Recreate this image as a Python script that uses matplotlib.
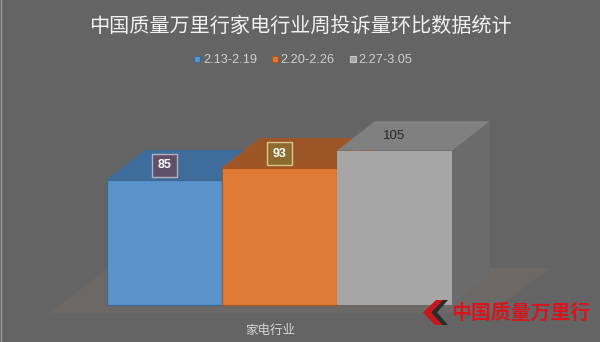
import matplotlib
matplotlib.use("Agg")
import matplotlib.pyplot as plt
from matplotlib.patches import Polygon
from matplotlib.lines import Line2D

# ---- data ----
title = "中国质量万里行家电行业周投诉量环比数据统计"
category = "家电行业"
weeks = ["2.13-2.19", "2.20-2.26", "2.27-3.05"]
complaints = [85, 93, 105]
watermark = "中国质量万里行"

# ---- styling ----
front_colors = ["#5B93CB", "#DF7B36", "#A6A6A6"]
top_colors = ["#3F6D9B", "#9C5526", "#808080"]
side_colors = ["#3A6690", "#94502A", "#6B6B6B"]
edge_colors = ["#3E6A96", "#A9561F", "none"]
label_fill = ["#5E5068", "#8B6B2E", None]
label_edge = ["#B7AEC0", "#D9C38F", None]
label_text = ["white", "white", "#262626"]
BG = "#646464"
FLOOR = "#6B6866"
CJK = ["Noto Sans CJK SC", "DejaVu Sans"]

W, H = 600, 342
fig = plt.figure(figsize=(W / 100, H / 100), dpi=100, facecolor=BG)
ax = fig.add_axes([0, 0, 1, 1])
ax.set_facecolor(BG)
ax.axis("off")

# pixel scale of the value axis and the category axis
px_per_x = 115.0
px_per_v = 125.0 / 85.0
x0_px, base_px = 107.0, 305.0
ax.set_xlim(-x0_px / px_per_x, (W - x0_px) / px_per_x)
ax.set_ylim(-(H - base_px) / px_per_v, base_px / px_per_v)

# depth of the 3D boxes (category units, value units)
dx, dy = 0.33, 20.0

# floor slab under the bars
fl_x0, fl_x1 = -0.5, 3.34
fl_y0 = -5.4
fdx, fdy = 0.51, 30.6
ax.add_patch(Polygon([(fl_x0, fl_y0), (fl_x1, fl_y0),
                      (fl_x1 + fdx, fl_y0 + fdy), (fl_x0 + fdx, fl_y0 + fdy)],
                     closed=True, facecolor=FLOOR, edgecolor="none", zorder=1))

for i, v in enumerate(complaints):
    x = float(i)
    side = [(x + 1, 0), (x + 1 + dx, dy), (x + 1 + dx, v + dy), (x + 1, v)]
    top = [(x, v), (x + 1, v), (x + 1 + dx, v + dy), (x + dx, v + dy)]
    front = [(x, 0), (x + 1, 0), (x + 1, v), (x, v)]
    z = 2 + i * 3
    ax.add_patch(Polygon(side, closed=True, facecolor=side_colors[i],
                         edgecolor="none", zorder=z))
    ax.add_patch(Polygon(top, closed=True, facecolor=top_colors[i],
                         edgecolor=edge_colors[i], linewidth=0.8, zorder=z + 1))
    ax.add_patch(Polygon(front, closed=True, facecolor=front_colors[i],
                         edgecolor=edge_colors[i], linewidth=0.9, zorder=z + 2))

# value labels on the top faces
for i, v in enumerate(complaints):
    bbox = None
    if label_fill[i] is not None:
        bbox = dict(boxstyle="square,pad=0.42", facecolor=label_fill[i],
                    edgecolor=label_edge[i], linewidth=1.0)
    ax.text(i + 0.5, v + dy / 2, str(v), ha="center", va="center",
            fontsize=9 if bbox else 9.5, color=label_text[i],
            fontweight="bold" if bbox else "normal",
            family=["Liberation Sans", "DejaVu Sans"], bbox=bbox, zorder=20)

# category label under the floor
ax.text((fl_x0 + fl_x1) / 2, -17.0, category, ha="center", va="center",
        fontsize=9, color="#D6D6D6", family=CJK, zorder=20)

# title
fig.text(0.5, 1 - 26 / H, title, ha="center", va="center",
         fontsize=14.5, color="#F2F2F2", family=CJK)

# legend
handles = [Line2D([], [], marker="s", linestyle="", markersize=4.5,
                  markerfacecolor=front_colors[i],
                  markeredgecolor=edge_colors[i] if i < 2 else "#C8C8C8",
                  markeredgewidth=0.8)
           for i in range(len(weeks))]
fig.legend(handles, weeks, loc="center", bbox_to_anchor=(302.5 / W, 1 - 60 / H),
           ncol=3, frameon=False, handlelength=0.7, handletextpad=0.1,
           columnspacing=1.05, borderpad=0,
           prop={"family": "Liberation Sans", "size": 9.2}, labelcolor="#CFCFCF")


def fpx(x, y):
    return (x / W, 1 - y / H)


# watermark logo: two chevrons and the brand name
red_chev = [fpx(*p) for p in [(436, 300), (443, 300), (431, 312.5), (442, 325),
                              (435, 325), (423, 312.5)]]
dark_chev = [fpx(*p) for p in [(442, 300), (448, 300), (437, 312.5), (448, 325),
                               (442, 325), (431, 312.5)]]
fig.patches.append(Polygon(dark_chev, closed=True, facecolor="#2B2B2B",
                           edgecolor="none", transform=fig.transFigure, zorder=30))
fig.patches.append(Polygon(red_chev, closed=True, facecolor="#C8161D",
                           edgecolor="none", transform=fig.transFigure, zorder=31))
fig.text(521 / W, 1 - 312.5 / H, watermark, ha="center", va="center",
         fontsize=14.3, fontweight="bold", color="#D7151E", family=CJK, zorder=32)

# thin light border on the left edge
fig.add_artist(Line2D([0.5 / W, 0.5 / W], [0, 1], color="#9A9A9A", linewidth=1.0,
                      transform=fig.transFigure))

fig.savefig("out.png", dpi=100, facecolor=BG)
